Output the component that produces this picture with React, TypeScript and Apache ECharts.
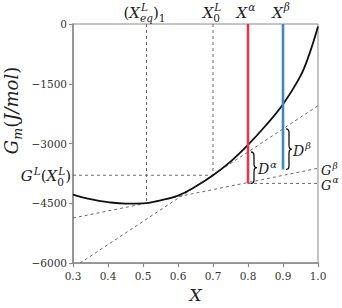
import React, { useEffect, useRef } from "react";
import * as echarts from "echarts";

// ---- data ----
const curveX = [0.3, 0.35, 0.4, 0.45, 0.5, 0.55, 0.6, 0.65, 0.7, 0.75, 0.8, 0.85, 0.9, 0.95, 0.975, 1.0];
const curveG = [-4280, -4395, -4470, -4508, -4503, -4425, -4308, -4080, -3795, -3453, -3033, -2553, -2013, -1303, -763, -63];

const xTicks = [0.3, 0.4, 0.5, 0.6, 0.7, 0.8, 0.9, 1.0];
const yTicks = [0, -1500, -3000, -4500, -6000];

const tangentX = [0.32, 1.0];
const tangentG = [-6000, -2050];
const commonX = [0.3, 1.0];
const commonG = [-4870, -3620];

const xEq = 0.51;
const gEq = -4500;
const x0 = 0.7;
const g0 = -3795;
const xAlpha = 0.8;
const gAlpha = -4000;
const tAlpha = -3212;
const xBeta = 0.9;
const gBeta = -3650;
const tBeta = -2631;

const FONT = "DejaVu Serif";
const TXT = "#222";
const DASH = "#6a6a6a";
const AXIS = "#8a8a8a";
const RED = "#e8364f";
const BLUE = "#3c88c3";

type Part = { t: string; it?: boolean; pos?: "sup" | "sub"; stack?: boolean; dx?: number };

let measureCtx: CanvasRenderingContext2D | null = null;
function measure(t: string, size: number, it: boolean) {
  if (!measureCtx) measureCtx = document.createElement("canvas").getContext("2d");
  measureCtx!.font = `${it ? "italic " : ""}${size}px "${FONT}"`;
  return measureCtx!.measureText(t).width;
}

function mathGroup(
  parts: Part[],
  base: number,
  align: "left" | "center" | "right",
  gx: number,
  gy: number,
  rotation = 0
) {
  let cursor = 0;
  let lastStart = 0;
  let lastEnd = 0;
  const items: any[] = [];
  for (const p of parts) {
    const size = p.pos ? base * 0.7 : base;
    const w = measure(p.t, size, !!p.it);
    const start = (p.stack ? lastStart : cursor) + (p.dx || 0);
    const end = start + w;
    const bl = p.pos === "sup" ? -0.46 * base : p.pos === "sub" ? 0.27 * base : 0;
    items.push({ t: p.t, x: start, bl, size, it: !!p.it });
    if (p.stack) {
      lastEnd = Math.max(lastEnd, end);
      cursor = lastEnd;
    } else {
      lastStart = start;
      lastEnd = end;
      cursor = end;
    }
  }
  const W = cursor;
  const off = align === "center" ? -W / 2 : align === "right" ? -W : 0;
  return {
    type: "group",
    x: gx,
    y: gy,
    rotation,
    children: items.map((d) => ({
      type: "text",
      x: d.x + off,
      y: d.bl - 0.33 * d.size,
      style: {
        text: d.t,
        fontFamily: FONT,
        fontSize: d.size,
        fontStyle: d.it ? "italic" : "normal",
        fill: TXT,
        align: "left",
        verticalAlign: "middle",
      },
    })),
  };
}

function brace(x: number, yTop: number, yBot: number, w: number) {
  const h = yBot - yTop;
  const r = Math.min(4, h / 6);
  const m = w / 2;
  const d = `M0,0 Q${m},0 ${m},${r} L${m},${h / 2 - r} Q${m},${h / 2} ${w},${h / 2} Q${m},${h / 2} ${m},${h / 2 + r} L${m},${h - r} Q${m},${h} 0,${h}`;
  return {
    type: "path",
    shape: { pathData: d, x, y: yTop, width: w, height: h, layout: "cover" },
    style: { fill: "none", stroke: "#111", lineWidth: 1.3 },
  };
}

const zip = (xs: number[], ys: number[]) => xs.map((x, i) => [x, ys[i]]);

// annotation anchors: [x, y, y2]
const annKinds = ["xeq", "x0", "xa", "xb", "gl", "ga", "gb", "da", "db", "yname"];
const annData = [
  [xEq, 0, 0],
  [x0, 0, 0],
  [xAlpha, 0, 0],
  [xBeta, 0, 0],
  [0.3, g0, 0],
  [1.0, gAlpha, 0],
  [1.0, commonG[1], 0],
  [xAlpha, tAlpha, gAlpha],
  [xBeta, tBeta, gBeta],
  [0.3, -2170, 0],
];

function renderAnn(params: any, api: any) {
  const kind = annKinds[params.dataIndex];
  const p = api.coord([api.value(0), api.value(1)]);
  const topBase = p[1] - 6.5;
  switch (kind) {
    case "xeq":
      return mathGroup(
        [
          { t: "(" },
          { t: "X", it: true },
          { t: "L", it: true, pos: "sup", dx: 1 },
          { t: "eq", it: true, pos: "sub", stack: true, dx: -1 },
          { t: ")" },
          { t: "1", pos: "sub" },
        ],
        15, "center", p[0] - 2, topBase
      );
    case "x0":
      return mathGroup(
        [
          { t: "X", it: true },
          { t: "L", it: true, pos: "sup", dx: 1 },
          { t: "0", pos: "sub", stack: true, dx: -1 },
        ],
        15, "center", p[0] - 1, topBase
      );
    case "xa":
      return mathGroup([{ t: "X", it: true }, { t: "α", it: true, pos: "sup", dx: 1 }], 15, "center", p[0] - 2, topBase);
    case "xb":
      return mathGroup([{ t: "X", it: true }, { t: "β", it: true, pos: "sup", dx: 1 }], 15, "center", p[0] - 2, topBase);
    case "gl":
      return mathGroup(
        [
          { t: "G", it: true },
          { t: "L", it: true, pos: "sup", dx: 1 },
          { t: "(" },
          { t: "X", it: true },
          { t: "L", it: true, pos: "sup", dx: 1 },
          { t: "0", pos: "sub", stack: true, dx: -1 },
          { t: ")" },
        ],
        15, "right", p[0] - 2, p[1] + 6
      );
    case "ga":
      return mathGroup([{ t: "G", it: true }, { t: "α", it: true, pos: "sup", dx: 1 }], 13, "left", p[0] + 3, p[1] + 6);
    case "gb":
      return mathGroup([{ t: "G", it: true }, { t: "β", it: true, pos: "sup", dx: 1 }], 13, "left", p[0] + 3, p[1] + 7);
    case "da":
    case "db": {
      const q = api.coord([api.value(0), api.value(2)]);
      const bx = p[0] + 3;
      const w = 6;
      const mid = (p[1] + q[1]) / 2;
      const sym = kind === "da" ? "α" : "β";
      return {
        type: "group",
        children: [
          brace(bx, p[1], q[1], w),
          mathGroup([{ t: "D", it: true }, { t: sym, it: true, pos: "sup", dx: 1 }], 14, "left", bx + w + 1, mid + 6),
        ],
      };
    }
    case "yname":
      return mathGroup(
        [
          { t: "G", it: true },
          { t: "m", it: true, pos: "sub" },
          { t: "(" },
          { t: "J/mol", it: true },
          { t: ")" },
        ],
        18, "center", p[0] - 56, p[1], Math.PI / 2
      );
  }
  return null;
}

const dashStyle = { color: DASH, width: 1, type: [3, 3] as any };
const dashSeries = (data: number[][], name: string) => ({
  name,
  type: "line",
  data,
  showSymbol: false,
  symbol: "none",
  lineStyle: dashStyle,
  z: 2,
});

export default function App() {
  const ref = useRef<HTMLDivElement>(null);
  useEffect(() => {
    document.body.style.margin = "0";
    const chart = echarts.init(ref.current!, null, { renderer: "svg" });
    chart.setOption({
      animation: false,
      grid: { left: 73, right: 24, top: 24, bottom: 41, show: true, borderColor: AXIS, borderWidth: 1 },
      xAxis: {
        type: "value",
        min: xTicks[0],
        max: xTicks[xTicks.length - 1],
        interval: 0.1,
        name: "X",
        nameLocation: "middle",
        nameGap: 19,
        nameTextStyle: { fontFamily: FONT, fontStyle: "italic", fontSize: 17, color: TXT },
        axisLine: { show: true, onZero: false, lineStyle: { color: AXIS, width: 1.6 } },
        axisTick: { show: true, length: 4, lineStyle: { color: AXIS, width: 1.2 } },
        axisLabel: {
          fontFamily: FONT,
          fontSize: 10.5,
          color: "#333",
          margin: 7,
          formatter: (v: number) => v.toFixed(1),
        },
        splitLine: { show: false },
      },
      yAxis: {
        type: "value",
        min: yTicks[yTicks.length - 1],
        max: yTicks[0],
        interval: 1500,
        axisLine: { show: true, onZero: false, lineStyle: { color: AXIS, width: 1.6 } },
        axisTick: { show: true, length: 4, lineStyle: { color: AXIS, width: 1.2 } },
        axisLabel: {
          fontFamily: FONT,
          fontSize: 10.5,
          color: "#333",
          margin: 6,
          formatter: (v: number) => String(v).replace("-", "\u2212"),
        },
        splitLine: { show: false },
      },
      series: [
        dashSeries(zip(tangentX, tangentG), "tangent"),
        dashSeries(zip(commonX, commonG), "common"),
        dashSeries([[xEq, 0], [xEq, gEq]], "eq"),
        dashSeries([[x0, 0], [x0, g0]], "x0v"),
        dashSeries([[commonX[0], g0], [x0, g0]], "g0h"),
        dashSeries([[xAlpha, gAlpha], [commonX[1], gAlpha]], "gah"),
        {
          name: "GL",
          type: "line",
          data: zip(curveX, curveG),
          smooth: 0.4,
          showSymbol: false,
          symbol: "none",
          lineStyle: { color: "#111", width: 1.8 },
          z: 3,
        },
        {
          name: "alpha",
          type: "line",
          data: [[xAlpha, 0], [xAlpha, gAlpha]],
          showSymbol: false,
          symbol: "none",
          lineStyle: { color: RED, width: 2.6 },
          z: 4,
        },
        {
          name: "beta",
          type: "line",
          data: [[xBeta, 0], [xBeta, gBeta]],
          showSymbol: false,
          symbol: "none",
          lineStyle: { color: BLUE, width: 2.6 },
          z: 4,
        },
        {
          name: "ann",
          type: "custom",
          data: annData,
          renderItem: renderAnn,
          clip: false,
          silent: true,
          z: 5,
        },
      ],
    });
    return () => chart.dispose();
  }, []);
  return <div ref={ref} style={{ width: 342, height: 308 }} />;
}
